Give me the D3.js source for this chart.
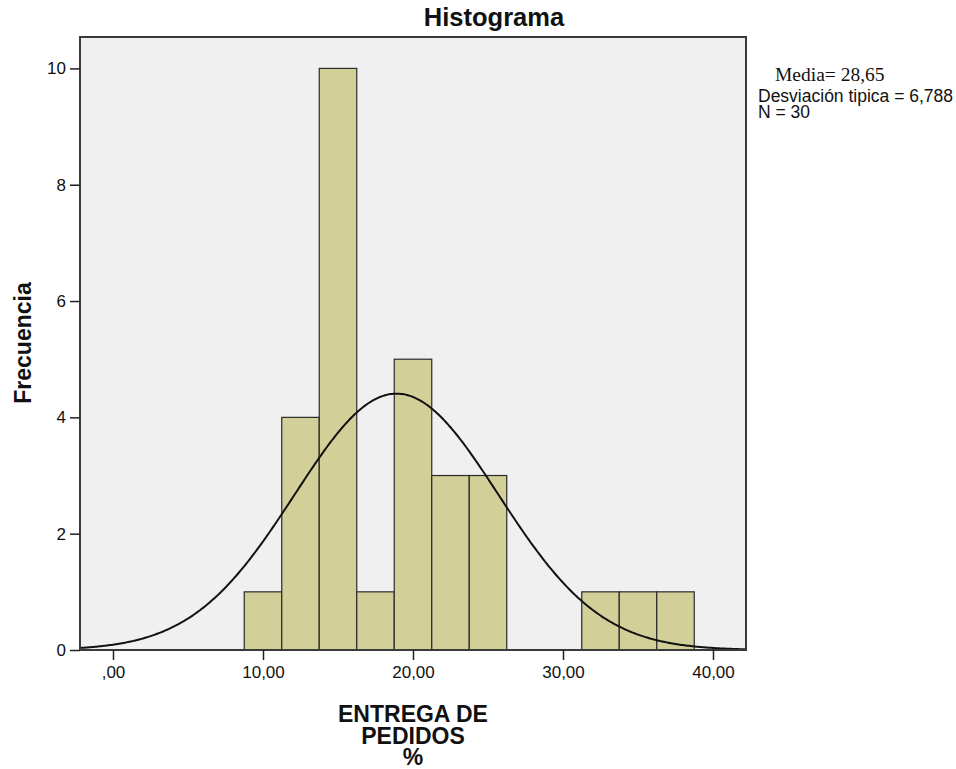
<!DOCTYPE html>
<html lang="es">
<head>
    <meta charset="UTF-8">
    <title>Histograma</title>
    <script src="https://d3js.org/d3.v7.min.js"></script>
    <style>
        body { margin: 0; background: #fff; }
        text { font-family: "Liberation Sans", Arial, sans-serif; fill: #111; }
        .tick text { font-size: 17px; }
        .tick line { stroke: #222; stroke-width: 1.5px; }
        .lbl { font-weight: bold; font-size: 23px; }
    </style>
</head>
<body>
<svg width="956" height="769"></svg>
<script>
    // bin edges (lower bound) and counts
    const binStart = [8.75, 11.25, 13.75, 16.25, 18.75, 21.25, 23.75, 26.25, 28.75, 31.25, 33.75, 36.25];
    const counts   = [1, 4, 10, 1, 5, 3, 3, 0, 0, 1, 1, 1];
    const binWidth = 2.5;
    const xTicks = [0, 10, 20, 30, 40];
    const yTicks = [0, 2, 4, 6, 8, 10];
    // normal curve parameters
    const curveMean = 18.9, curveSd = 6.788, curveN = 30;
    const statLines = ["Desviación tipica = 6,788", "N = 30"];

    const svg = d3.select("svg");
    const plotL = 80, plotR = 746, plotT = 37, plotB = 650;

    const x = d3.scaleLinear().domain([-2.2, 42.2]).range([plotL, plotR]);
    const y = d3.scaleLinear().domain([0, 10.54]).range([plotB, plotT]);

    svg.append("rect")
        .attr("x", plotL).attr("y", plotT)
        .attr("width", plotR - plotL).attr("height", plotB - plotT)
        .attr("fill", "#f0f0f0");

    const bins = binStart.map((s, i) => ({x0: s, x1: s + binWidth, n: counts[i]}));

    svg.selectAll(".bar")
        .data(bins.filter(d => d.n > 0))
        .enter().append("rect")
        .attr("class", "bar")
        .attr("x", d => x(d.x0))
        .attr("width", d => x(d.x1) - x(d.x0))
        .attr("y", d => y(d.n))
        .attr("height", d => y(0) - y(d.n))
        .attr("fill", "#d3cf98")
        .attr("stroke", "#2a2a2a")
        .attr("stroke-width", 1.2);

    // normal curve scaled to counts
    const pts = d3.range(-2.2, 42.21, 0.1).map(v => [v,
        curveN * binWidth * Math.exp(-((v - curveMean) ** 2) / (2 * curveSd * curveSd)) / (curveSd * Math.sqrt(2 * Math.PI))]);

    svg.append("path")
        .datum(pts)
        .attr("fill", "none")
        .attr("stroke", "#111")
        .attr("stroke-width", 2)
        .attr("d", d3.line().x(d => x(d[0])).y(d => y(d[1])));

    // frame
    svg.append("rect")
        .attr("x", plotL).attr("y", plotT)
        .attr("width", plotR - plotL).attr("height", plotB - plotT)
        .attr("fill", "none")
        .attr("stroke", "#3a3a3a")
        .attr("stroke-width", 2);

    const fmt = v => v === 0 ? ",00" : d3.format(".2f")(v).replace(".", ",");

    const gx = svg.append("g")
        .attr("transform", `translate(0,${plotB})`)
        .call(d3.axisBottom(x).tickValues(xTicks).tickFormat(fmt).tickSize(10).tickPadding(6));
    gx.select(".domain").remove();

    const gy = svg.append("g")
        .attr("transform", `translate(${plotL},0)`)
        .call(d3.axisLeft(y).tickValues(yTicks).tickSize(10).tickPadding(4));
    gy.select(".domain").remove();

    svg.append("text")
        .attr("class", "lbl")
        .attr("x", 494).attr("y", 26)
        .attr("text-anchor", "middle")
        .style("font-size", "25.5px")
        .text("Histograma");

    svg.append("text")
        .attr("class", "lbl")
        .attr("transform", "translate(31,343) rotate(-90)")
        .attr("text-anchor", "middle")
        .text("Frecuencia");

    ["ENTREGA DE", "PEDIDOS", "%"].forEach((t, i) => {
        svg.append("text")
            .attr("class", "lbl")
            .attr("x", 413).attr("y", 722 + i * 21.5)
            .attr("text-anchor", "middle")
            .text(t);
    });

    svg.append("text")
        .attr("x", 775).attr("y", 81)
        .style("font-family", "'Liberation Serif', 'Times New Roman', serif")
        .style("font-size", "19.5px")
        .text("Media= 28,65");

    statLines.forEach((t, i) => {
        svg.append("text")
            .attr("x", 758).attr("y", 102 + i * 16)
            .style("font-size", "17.5px")
            .text(t);
    });
</script>
</body>
</html>
